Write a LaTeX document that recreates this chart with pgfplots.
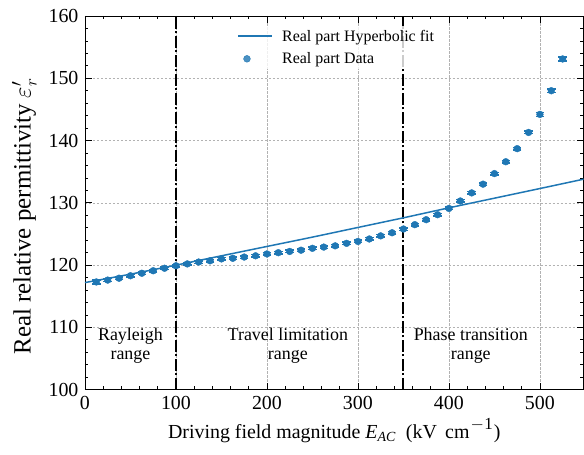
\documentclass[border=0pt]{standalone}
\usepackage{pgfplots}
\pgfplotsset{compat=1.18}
\usepackage{fontspec}
\setmainfont{Liberation Serif}
\definecolor{tabblue}{HTML}{1F77B4}
\pgfplotstableread{
x y e
12.5 117.3 0.3
25 117.6 0.25
37.5 117.9 0.2
50 118.3 0.2
62.5 118.7 0.2
75 119.1 0.2
87.5 119.5 0.2
100 119.9 0.2
112.5 120.2 0.2
125 120.5 0.2
137.5 120.7 0.2
150 121.0 0.2
162.5 121.1 0.2
175 121.3 0.2
187.5 121.5 0.2
200 121.8 0.2
212.5 122.0 0.2
225 122.2 0.2
237.5 122.4 0.2
250 122.7 0.2
262.5 122.9 0.2
275 123.1 0.2
287.5 123.5 0.2
300 123.8 0.2
312.5 124.2 0.2
325 124.7 0.2
337.5 125.2 0.2
350 125.8 0.2
362.5 126.5 0.2
375 127.3 0.2
387.5 128.1 0.2
400 129.1 0.2
412.5 130.3 0.2
425 131.6 0.2
437.5 133.0 0.2
450 134.7 0.2
462.5 136.6 0.2
475 138.7 0.2
487.5 141.3 0.2
500 144.2 0.3
512.5 148.0 0.3
525 153.1 0.3
}\datatable
\pgfplotstableread{
x y
0 117.2
50 118.55
100 120.0
150 121.5
200 123.0
250 124.5
300 126.05
350 127.6
400 129.2
450 130.75
500 132.3
548 133.8
}\fittable
\begin{document}
\begin{tikzpicture}
\begin{axis}[
  scale only axis,
  width=499bp, height=374bp,
  xmin=0, xmax=548, ymin=100, ymax=160,
  xtick={0,100,...,500}, ytick={100,110,...,160},
  minor x tick num=4, minor y tick num=4,
  tick align=inside, xtick pos=both, ytick pos=both,
  major tick length=7bp, minor tick length=3.5bp,
  tick style={black, line width=0.8bp},
  axis line style={line width=0.8bp},
  grid=major,
  major grid style={gray!60, dash pattern=on 2.5bp off 1.5bp, line width=0.6bp},
  /pgf/number format/assume math mode=true,
  ticklabel style={font=\fontsize{20}{22}\selectfont},
  xticklabel style={yshift=-3bp},
  yticklabel style={xshift=-3bp},
  xlabel={Driving field magnitude \textit{E}\textsubscript{\textit{AC}}\ \ (kV\ \,cm\raisebox{0.42em}{\fontsize{17}{17}\selectfont\kern1pt$-$\kern0.5pt1}\kern1pt)},
  ylabel={Real relative permittivity $\varepsilon_r'$},
  xlabel style={font=\fontsize{20}{22}\selectfont, yshift=-2bp},
  ylabel style={font=\fontsize{25}{27}\selectfont, at={(ticklabel cs:0.464)}},
  ylabel shift=5bp,
  legend style={at={(0.30,0.974)}, anchor=north west, draw=none, fill=white, fill opacity=0.8, text opacity=1,
    font=\fontsize{16}{18}\selectfont, row sep=6bp,
    /tikz/every odd column/.append style={column sep=7bp}},
  legend cell align=left,
]
\draw[black, line width=2bp, dash pattern=on 12bp off 2.5bp on 2bp off 2.5bp] (axis cs:100,100) -- (axis cs:100,160);
\draw[black, line width=2bp, dash pattern=on 12bp off 2.5bp on 2bp off 2.5bp] (axis cs:350,100) -- (axis cs:350,160);
\addplot[tabblue, line width=1.5bp, smooth, no marks,
  legend image code/.code={\draw[tabblue, line width=1.5bp] (0bp,0bp) -- (34bp,0bp);}]
  table[x=x,y=y] {\fittable};
\addlegendentry{Real part Hyperbolic fit}
\addplot[tabblue, only marks, mark=*, mark size=3.4bp,
  error bars/.cd, y dir=both, y explicit,
  error bar style={line width=1.5bp, tabblue},
  error mark options={rotate=90, mark size=4.2bp, line width=1.5bp, tabblue}]
  table[x=x, y=y, y error=e] {\datatable};
\addlegendentry[legend image code/.code={%
  \draw[tabblue, line width=1.5bp] (17bp,-8bp) -- (17bp,8bp);
  \draw[tabblue, line width=1.5bp] (13.5bp,-8bp) -- (20.5bp,-8bp);
  \draw[tabblue, line width=1.5bp] (13.5bp,8bp) -- (20.5bp,8bp);
  \fill[tabblue] (17bp,0bp) circle (3.4bp);}]{Real part Data}
\node[align=center, font=\fontsize{18}{19}\selectfont] at (axis cs:50,107.0) {Rayleigh\\range};
\node[align=center, font=\fontsize{18}{19}\selectfont] at (axis cs:223,107.0) {Travel limitation\\range};
\node[align=center, font=\fontsize{18}{19}\selectfont] at (axis cs:424,107.0) {Phase transition\\range};
\end{axis}
\path (current axis.south west) ++(-85bp,-65bp) coordinate (bbA);
\path (current axis.north east) ++(0bp,16bp) coordinate (bbB);
\useasboundingbox (bbA) rectangle (bbB);
\end{tikzpicture}
\end{document}
